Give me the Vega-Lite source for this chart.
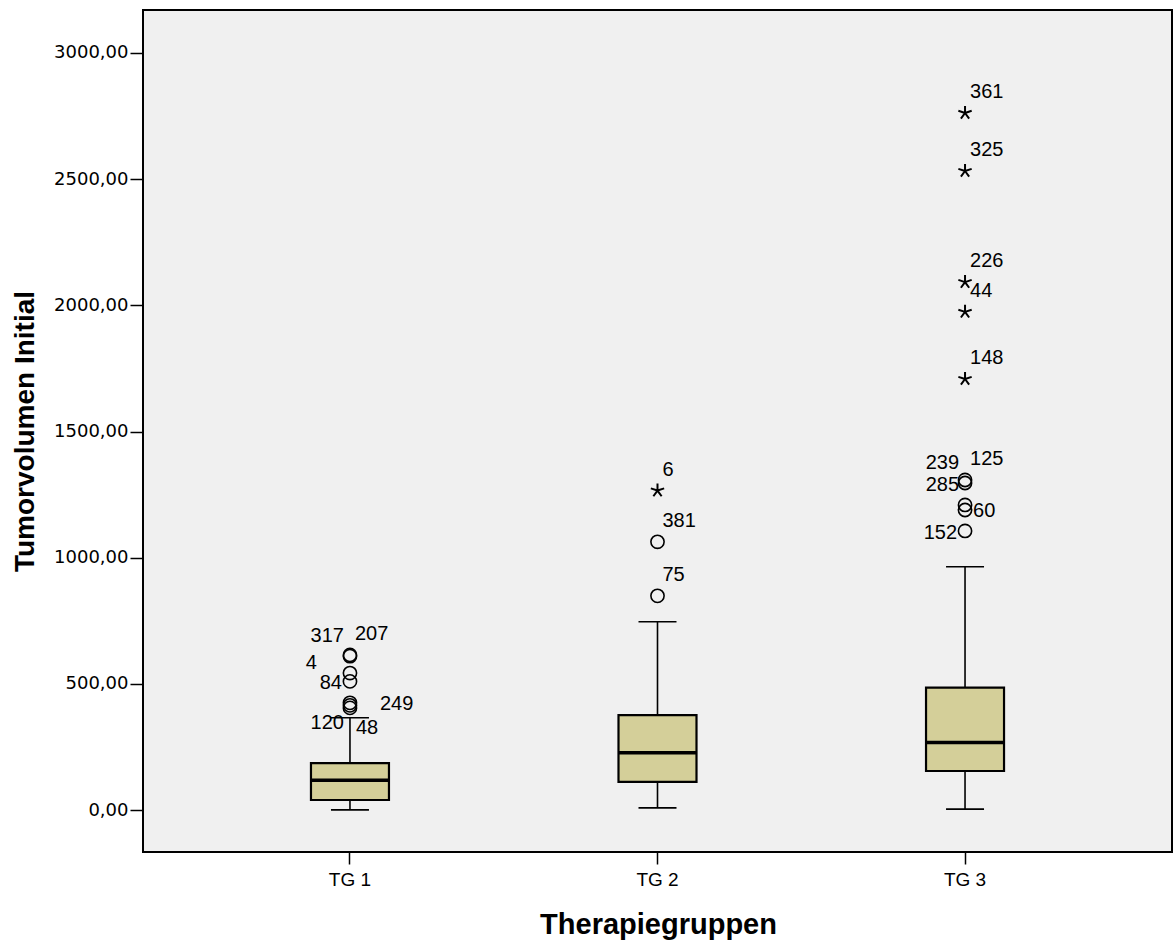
{
  "$schema": "https://vega.github.io/schema/vega-lite/v6.json",
  "width": 1029,
  "height": 842,
  "autosize": {"type": "none"},
  "padding": {"left": 143, "top": 10, "right": 4, "bottom": 92},
  "background": "white",
  "datasets": {
    "boxes": [
      {"group": "TG 1", "min": 1, "q1": 40, "median": 118, "q3": 186, "max": 366},
      {"group": "TG 2", "min": 9, "q1": 112, "median": 227, "q3": 376, "max": 746},
      {"group": "TG 3", "min": 4, "q1": 155, "median": 268, "q3": 485, "max": 964}
    ],
    "outliers": [
      {"group": "TG 1", "case": "317", "value": 610, "kind": "outlier", "side": "ul"},
      {"group": "TG 1", "case": "207", "value": 615, "kind": "outlier", "side": "ur"},
      {"group": "TG 1", "case": "4", "value": 543, "kind": "outlier", "side": "far-left"},
      {"group": "TG 1", "case": "84", "value": 510, "kind": "outlier", "side": "l"},
      {"group": "TG 1", "case": "249", "value": 425, "kind": "outlier", "side": "far-right"},
      {"group": "TG 1", "case": "120", "value": 415, "kind": "outlier", "side": "dl"},
      {"group": "TG 1", "case": "48", "value": 405, "kind": "outlier", "side": "dr"},
      {"group": "TG 2", "case": "6", "value": 1266, "kind": "extreme", "side": "ur"},
      {"group": "TG 2", "case": "381", "value": 1063, "kind": "outlier", "side": "ur"},
      {"group": "TG 2", "case": "75", "value": 849, "kind": "outlier", "side": "ur"},
      {"group": "TG 3", "case": "361", "value": 2762, "kind": "extreme", "side": "ur"},
      {"group": "TG 3", "case": "325", "value": 2532, "kind": "extreme", "side": "ur"},
      {"group": "TG 3", "case": "226", "value": 2092, "kind": "extreme", "side": "ur"},
      {"group": "TG 3", "case": "44", "value": 1974, "kind": "extreme", "side": "ur"},
      {"group": "TG 3", "case": "148", "value": 1708, "kind": "extreme", "side": "ur"},
      {"group": "TG 3", "case": "125", "value": 1308, "kind": "outlier", "side": "ur"},
      {"group": "TG 3", "case": "239", "value": 1296, "kind": "outlier", "side": "ul"},
      {"group": "TG 3", "case": "285", "value": 1209, "kind": "outlier", "side": "ul"},
      {"group": "TG 3", "case": "60", "value": 1189, "kind": "outlier", "side": "r"},
      {"group": "TG 3", "case": "152", "value": 1106, "kind": "outlier", "side": "l"}
    ]
  },
  "encoding": {
    "x": {
      "field": "group",
      "type": "nominal",
      "title": "Therapiegruppen",
      "scale": {"type": "band", "paddingInner": 0, "paddingOuter": 0.173},
      "axis": {
        "labelAngle": 0,
        "labelFont": "Liberation Sans",
        "labelFontSize": 19,
        "labelColor": "#000",
        "labelPadding": 6,
        "tickColor": "#000",
        "tickSize": 12,
        "tickWidth": 1.5,
        "domain": false,
        "grid": false,
        "titleFont": "Liberation Sans",
        "titleFontSize": 29,
        "titleFontWeight": "bold",
        "titleColor": "#000",
        "titleX": 515,
        "titleY": 81,
        "titleAlign": "center",
        "titleBaseline": "alphabetic"
      }
    }
  },
  "layer": [
    {
      "data": {"name": "boxes"},
      "mark": {"type": "rule", "color": "#000", "strokeWidth": 1.6, "opacity": 1},
      "encoding": {
        "y": {
          "field": "min",
          "type": "quantitative",
          "title": "Tumorvolumen Initial",
          "scale": {"domain": [-166, 3170], "nice": false, "zero": false},
          "axis": {
            "values": [0, 500, 1000, 1500, 2000, 2500, 3000],
            "labelExpr": "replace(format(datum.value, '.2f'), '.', ',')",
            "labelFont": "DejaVu Sans",
            "labelFontSize": 18,
            "labelColor": "#000",
            "labelPadding": 2,
            "tickColor": "#000",
            "tickSize": 13,
            "tickWidth": 1.5,
            "domain": false,
            "grid": false,
            "titleFont": "Liberation Sans",
            "titleFontSize": 28,
            "titleFontWeight": "bold",
            "titleColor": "#000",
            "titleAngle": 270,
            "titleX": -118,
            "titleY": 421,
            "titleAlign": "center",
            "titleBaseline": "middle"
          }
        },
        "y2": {"field": "max"}
      }
    },
    {
      "data": {"name": "boxes"},
      "mark": {"type": "tick", "color": "#000", "size": 38, "thickness": 1.6, "opacity": 1},
      "encoding": {"y": {"field": "min", "type": "quantitative", "title": "Tumorvolumen Initial"}}
    },
    {
      "data": {"name": "boxes"},
      "mark": {"type": "tick", "color": "#000", "size": 38, "thickness": 1.6, "opacity": 1},
      "encoding": {"y": {"field": "max", "type": "quantitative", "title": "Tumorvolumen Initial"}}
    },
    {
      "data": {"name": "boxes"},
      "mark": {"type": "bar", "size": 78, "fill": "#d4cf99", "stroke": "#000", "strokeWidth": 2.2, "opacity": 1},
      "encoding": {
        "y": {"field": "q1", "type": "quantitative", "title": "Tumorvolumen Initial"},
        "y2": {"field": "q3"}
      }
    },
    {
      "data": {"name": "boxes"},
      "mark": {"type": "tick", "color": "#000", "size": 78, "thickness": 3.5, "opacity": 1},
      "encoding": {"y": {"field": "median", "type": "quantitative", "title": "Tumorvolumen Initial"}}
    },
    {
      "data": {"name": "outliers"},
      "transform": [{"filter": "datum.kind === 'outlier'"}],
      "mark": {"type": "point", "shape": "circle", "filled": false, "stroke": "#000", "strokeWidth": 1.6, "size": 175, "opacity": 1},
      "encoding": {"y": {"field": "value", "type": "quantitative", "title": "Tumorvolumen Initial"}}
    },
    {
      "data": {"name": "outliers"},
      "transform": [{"filter": "datum.kind === 'extreme'"}],
      "mark": {"type": "point", "shape": "M0,0L0,-1M0,0L0.951,-0.309M0,0L0.588,0.809M0,0L-0.588,0.809M0,0L-0.951,-0.309", "filled": false, "stroke": "#000", "strokeWidth": 2, "size": 196, "opacity": 1},
      "encoding": {"y": {"field": "value", "type": "quantitative", "title": "Tumorvolumen Initial"}}
    },
    {
      "data": {"name": "outliers"},
      "transform": [{"filter": "datum.side === 'ur'"}],
      "mark": {"type": "text", "font": "Liberation Sans", "fontSize": 20, "color": "#000", "align": "left", "baseline": "middle", "dx": 5, "dy": -21},
      "encoding": {"y": {"field": "value", "type": "quantitative", "title": "Tumorvolumen Initial"}, "text": {"field": "case"}}
    },
    {
      "data": {"name": "outliers"},
      "transform": [{"filter": "datum.side === 'ul'"}],
      "mark": {"type": "text", "font": "Liberation Sans", "fontSize": 20, "color": "#000", "align": "right", "baseline": "middle", "dx": -6, "dy": -20},
      "encoding": {"y": {"field": "value", "type": "quantitative", "title": "Tumorvolumen Initial"}, "text": {"field": "case"}}
    },
    {
      "data": {"name": "outliers"},
      "transform": [{"filter": "datum.side === 'r'"}],
      "mark": {"type": "text", "font": "Liberation Sans", "fontSize": 20, "color": "#000", "align": "left", "baseline": "middle", "dx": 8, "dy": 1},
      "encoding": {"y": {"field": "value", "type": "quantitative", "title": "Tumorvolumen Initial"}, "text": {"field": "case"}}
    },
    {
      "data": {"name": "outliers"},
      "transform": [{"filter": "datum.side === 'far-right'"}],
      "mark": {"type": "text", "font": "Liberation Sans", "fontSize": 20, "color": "#000", "align": "left", "baseline": "middle", "dx": 30, "dy": 1},
      "encoding": {"y": {"field": "value", "type": "quantitative", "title": "Tumorvolumen Initial"}, "text": {"field": "case"}}
    },
    {
      "data": {"name": "outliers"},
      "transform": [{"filter": "datum.side === 'l'"}],
      "mark": {"type": "text", "font": "Liberation Sans", "fontSize": 20, "color": "#000", "align": "right", "baseline": "middle", "dx": -8, "dy": 2},
      "encoding": {"y": {"field": "value", "type": "quantitative", "title": "Tumorvolumen Initial"}, "text": {"field": "case"}}
    },
    {
      "data": {"name": "outliers"},
      "transform": [{"filter": "datum.side === 'far-left'"}],
      "mark": {"type": "text", "font": "Liberation Sans", "fontSize": 20, "color": "#000", "align": "right", "baseline": "middle", "dx": -33, "dy": -10},
      "encoding": {"y": {"field": "value", "type": "quantitative", "title": "Tumorvolumen Initial"}, "text": {"field": "case"}}
    },
    {
      "data": {"name": "outliers"},
      "transform": [{"filter": "datum.side === 'dl'"}],
      "mark": {"type": "text", "font": "Liberation Sans", "fontSize": 20, "color": "#000", "align": "right", "baseline": "middle", "dx": -6, "dy": 18},
      "encoding": {"y": {"field": "value", "type": "quantitative", "title": "Tumorvolumen Initial"}, "text": {"field": "case"}}
    },
    {
      "data": {"name": "outliers"},
      "transform": [{"filter": "datum.side === 'dr'"}],
      "mark": {"type": "text", "font": "Liberation Sans", "fontSize": 20, "color": "#000", "align": "left", "baseline": "middle", "dx": 6, "dy": 20},
      "encoding": {"y": {"field": "value", "type": "quantitative", "title": "Tumorvolumen Initial"}, "text": {"field": "case"}}
    }
  ],
  "config": {
    "view": {"fill": "#f0f0f0", "stroke": "#000", "strokeWidth": 2}
  }
}
